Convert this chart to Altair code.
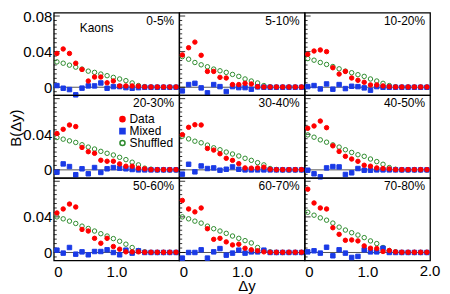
import altair as alt
import pandas as pd

# ---- data ----
dy = [0.05, 0.15, 0.25, 0.35, 0.45, 0.55, 0.65, 0.75, 0.85, 0.95,
      1.05, 1.15, 1.25, 1.35, 1.45, 1.55, 1.65, 1.75, 1.85, 1.95]

centralities = ["0-5%", "5-10%", "10-20%", "20-30%", "30-40%", "40-50%",
                "50-60%", "60-70%", "70-80%"]

data_vals = {
    "0-5%":   [0.0380, 0.0430, 0.0380, 0.0270, 0.0200, 0.0070, 0.0115, 0.0115, 0.0050, 0.0070,
               0.0015, 0.0015, 0.0015, 0.0012, 0.0004, 0.0003, 0.0003, 0.0003, 0.0003, 0.0003],
    "5-10%":  [0.0363, 0.0444, 0.0507, 0.0359, 0.0178, 0.0178, 0.0111, 0.0104, 0.0030, 0.0030,
               0.0044, 0.0037, 0.0007, 0.0003, 0.0003, 0.0003, 0.0003, 0.0003, 0.0003, 0.0003],
    "10-20%": [0.0370, 0.0407, 0.0419, 0.0400, 0.0219, 0.0148, 0.0178, 0.0104, 0.0078, 0.0056,
               0.0026, 0.0026, 0.0015, 0.0007, 0.0003, 0.0003, 0.0003, 0.0003, 0.0003, 0.0003],
    "20-30%": [0.0408, 0.0456, 0.0504, 0.0486, 0.0252, 0.0204, 0.0186, 0.0108, 0.0097, 0.0097,
               0.0067, 0.0041, 0.0041, 0.0019, 0.0012, 0.0003, 0.0003, 0.0003, 0.0003, 0.0003],
    "30-40%": [0.0396, 0.0478, 0.0507, 0.0504, 0.0241, 0.0222, 0.0181, 0.0130, 0.0107, 0.0070,
               0.0022, 0.0019, 0.0022, 0.0030, 0.0007, 0.0003, 0.0003, 0.0003, 0.0003, 0.0003],
    "40-50%": [0.0467, 0.0493, 0.0548, 0.0474, 0.0270, 0.0207, 0.0152, 0.0122, 0.0096, 0.0052,
               0.0041, 0.0022, 0.0015, 0.0011, 0.0003, 0.0003, 0.0003, 0.0003, 0.0003, 0.0003],
    "50-60%": [0.0444, 0.0489, 0.0544, 0.0511, 0.0259, 0.0241, 0.0159, 0.0104, 0.0159, 0.0067,
               0.0037, 0.0007, 0.0007, 0.0007, 0.0003, 0.0003, 0.0003, 0.0003, 0.0003, 0.0003],
    "60-70%": [0.0585, 0.0489, 0.0456, 0.0500, 0.0267, 0.0148, 0.0159, 0.0119, 0.0085, 0.0093,
               0.0048, 0.0030, 0.0019, 0.0007, 0.0003, 0.0003, 0.0003, 0.0003, 0.0003, 0.0003],
    "70-80%": [0.0711, 0.0556, 0.0500, 0.0489, 0.0278, 0.0204, 0.0137, 0.0141, 0.0130, 0.0074,
               0.0048, 0.0044, 0.0011, 0.0022, 0.0007, 0.0003, 0.0003, 0.0003, 0.0003, 0.0003],
}

mixed_vals = {
    "0-5%":   [0.0019, -0.0011, -0.0026, -0.0085, -0.0010, 0.0015, 0.0015, 0.0048, -0.0011, 0.0007,
               0.0007, -0.0004, -0.0011, -0.0004, 0.0, 0.0, 0.0, 0.0, 0.0, 0.0],
    "5-10%":  [-0.0041, 0.0030, 0.0044, -0.0007, -0.0063, 0.0030, 0.0007, -0.0048, 0.0007, -0.0004,
               -0.0004, -0.0022, 0.0004, 0.0, 0.0, 0.0, 0.0, 0.0, 0.0, 0.0],
    "10-20%": [0.0007, 0.0019, -0.0019, 0.0037, -0.0022, 0.0030, -0.0015, 0.0011, 0.0007, -0.0007,
               -0.0033, 0.0007, 0.0, 0.0, 0.0, 0.0, 0.0, 0.0, 0.0, 0.0],
    "20-30%": [-0.0026, 0.0067, 0.0037, -0.0055, 0.0012, -0.0044, 0.0026, -0.0029, 0.0012, 0.0026,
               0.0019, 0.0012, 0.0004, 0.0, 0.0, 0.0, 0.0, 0.0, 0.0, 0.0],
    "30-40%": [-0.0048, 0.0063, -0.0022, 0.0044, 0.0015, 0.0022, -0.0004, 0.0007, 0.0033, 0.0007,
               0.0, 0.0, 0.0, 0.0, 0.0, 0.0, 0.0, 0.0, 0.0, 0.0],
    "40-50%": [-0.0004, -0.0044, -0.0078, 0.0022, 0.0037, 0.0033, -0.0052, -0.0033, 0.0015, -0.0004,
               -0.0004, 0.0, 0.0, 0.0, 0.0, 0.0, 0.0, 0.0, 0.0, 0.0],
    "50-60%": [0.0026, -0.0007, 0.0056, -0.0019, 0.0007, -0.0026, 0.0011, 0.0011, 0.0030, 0.0,
               -0.0026, 0.0026, -0.0007, 0.0019, 0.0, 0.0, 0.0, 0.0, 0.0, 0.0],
    "60-70%": [-0.0063, 0.0, 0.0, 0.0030, -0.0063, 0.0007, 0.0044, -0.0030, -0.0007, 0.0026,
               -0.0007, 0.0007, 0.0007, 0.0026, 0.0, 0.0, 0.0, 0.0, 0.0, 0.0],
    "70-80%": [0.0007, 0.0019, -0.0007, 0.0059, -0.0037, 0.0030, -0.0007, -0.0056, -0.0044, 0.0030,
               0.0007, 0.0007, 0.0048, 0.0, 0.0, 0.0, 0.0, 0.0, 0.0, 0.0],
}

shuffled_vals = {
    "0-5%":   [0.0285, 0.0270, 0.0248, 0.0226, 0.0204, 0.0181, 0.0167, 0.0148, 0.0130, 0.0111,
               0.0093, 0.0074, 0.0048, 0.0019, 0.0007, 0.0002, 0.0, 0.0, 0.0, 0.0],
    "5-10%":  [0.0344, 0.0315, 0.0278, 0.0252, 0.0230, 0.0204, 0.0185, 0.0167, 0.0144, 0.0122,
               0.0093, 0.0070, 0.0048, 0.0019, 0.0004, 0.0, 0.0, 0.0, 0.0, 0.0],
    "10-20%": [0.0322, 0.0304, 0.0278, 0.0256, 0.0233, 0.0207, 0.0181, 0.0163, 0.0141, 0.0122,
               0.0093, 0.0070, 0.0044, 0.0019, 0.0004, 0.0, 0.0, 0.0, 0.0, 0.0],
    "20-30%": [0.0363, 0.0345, 0.0326, 0.0308, 0.0282, 0.0256, 0.0234, 0.0208, 0.0186, 0.0167,
               0.0141, 0.0115, 0.0086, 0.0056, 0.0019, 0.0008, 0.0, 0.0, 0.0, 0.0],
    "30-40%": [0.0378, 0.0348, 0.0322, 0.0304, 0.0278, 0.0248, 0.0226, 0.0200, 0.0178, 0.0156,
               0.0130, 0.0107, 0.0081, 0.0056, 0.0015, 0.0003, 0.0, 0.0, 0.0, 0.0],
    "40-50%": [0.0393, 0.0367, 0.0337, 0.0311, 0.0281, 0.0256, 0.0226, 0.0196, 0.0170, 0.0152,
               0.0122, 0.0093, 0.0063, 0.0026, 0.0007, 0.0, 0.0, 0.0, 0.0, 0.0],
    "50-60%": [0.0400, 0.0378, 0.0352, 0.0326, 0.0296, 0.0270, 0.0241, 0.0211, 0.0185, 0.0156,
               0.0126, 0.0093, 0.0056, 0.0022, 0.0007, 0.0, 0.0, 0.0, 0.0, 0.0],
    "60-70%": [0.0400, 0.0378, 0.0352, 0.0330, 0.0296, 0.0267, 0.0241, 0.0215, 0.0185, 0.0159,
               0.0133, 0.0107, 0.0056, 0.0022, 0.0007, 0.0, 0.0, 0.0, 0.0, 0.0],
    "70-80%": [0.0452, 0.0419, 0.0389, 0.0363, 0.0330, 0.0285, 0.0252, 0.0222, 0.0196, 0.0167,
               0.0130, 0.0100, 0.0056, 0.0022, 0.0007, 0.0, 0.0, 0.0, 0.0, 0.0],
}

series_names = ["Data", "Mixed", "Shuffled"]
series_stroke = ["#ff0000", "#1a3ae6", "#2e8b2e"]
series_fill = ["#ff0000", "#1a3ae6", "transparent"]
series_shape = ["circle", "square", "circle"]

y_minor_ticks = [-0.005, 0.005, 0.01, 0.015, 0.02, 0.025, 0.03, 0.035,
                 0.045, 0.05, 0.055, 0.06, 0.065, 0.07, 0.075]
y_major_ticks = [0.0, 0.04, 0.08]
y_labels_top = [0, 0.04, 0.08]
y_labels_lower = [0, 0.04]
x_labels = [0, 1.0]
particle = "Kaons"
x_title = "Δy"
y_title = "B(Δy)"
x_last_label = "2.0"

W, H = 126, 83
FONT = "Liberation Sans"

xscale = alt.Scale(domain=[0, 2.0], nice=False, zero=False)
yscale = alt.Scale(domain=[-0.009, 0.0838], nice=False, zero=False)

legend = alt.Legend(orient="none", legendX=63, legendY=101, title=None,
                    labelFont=FONT, labelFontSize=12, labelColor="black",
                    symbolSize=26, rowPadding=0, padding=0, labelOffset=1)


def panel(i, cent):
    col, row = i % 3, i // 3
    rows = []
    for s, table in [("Shuffled", shuffled_vals), ("Mixed", mixed_vals), ("Data", data_vals)]:
        for x, v in zip(dy, table[cent]):
            rows.append({"kind": "point", "series": s, "dy": x, "b": v})
    for t in y_minor_ticks:
        rows.append({"kind": "minor", "series": "", "dy": 0.0, "b": t})
    for t in y_major_ticks:
        rows.append({"kind": "major", "series": "", "dy": 0.0, "b": t})
    rows.append({"kind": "label", "series": "", "dy": 0.0, "b": 0.0})
    df = pd.DataFrame(rows)

    if row == 2:
        xaxis = alt.Axis(values=x_labels, title=None, ticks=False, domain=False, grid=False,
                         labelExpr="datum.value == 0 ? '0' : format(datum.value, '.1f')")
    else:
        xaxis = None
    if col == 0:
        yaxis = alt.Axis(values=y_labels_top if row == 0 else y_labels_lower, title=None,
                         ticks=False, domain=False, grid=False,
                         labelExpr="datum.value == 0 ? '0' : format(datum.value, '.2f')")
    else:
        yaxis = None

    X = alt.X("dy:Q", scale=xscale, axis=xaxis)
    Y = alt.Y("b:Q", scale=yscale, axis=yaxis)
    base = alt.Chart(df)
    lab = base.transform_filter(alt.datum.kind == "label")

    layers = [
        lab.mark_rule(color="#555555", strokeWidth=1).encode(y=Y),
        base.transform_filter(alt.datum.kind == "minor").mark_rule(
            color="black", strokeWidth=0.8).encode(y=Y, x=alt.value(0), x2=alt.value(3)),
        base.transform_filter(alt.datum.kind == "major").mark_rule(
            color="black", strokeWidth=0.8).encode(y=Y, x=alt.value(0), x2=alt.value(6)),
        base.transform_filter(alt.datum.kind == "point").mark_point(
            filled=False, strokeWidth=1, opacity=1, size=20).encode(
            x=X, y=Y,
            stroke=alt.Stroke("series:N", scale=alt.Scale(domain=series_names, range=series_stroke), legend=legend),
            fill=alt.Fill("series:N", scale=alt.Scale(domain=series_names, range=series_fill), legend=legend),
            shape=alt.Shape("series:N", scale=alt.Scale(domain=series_names, range=series_shape), legend=legend),
        ),
        lab.mark_text(align="right", baseline="middle", font=FONT, fontSize=12, color="black").encode(
            x=alt.value(W - 5), y=alt.value(8), text=alt.value(cent)),
    ]
    if i == 0:
        layers.append(lab.mark_text(align="left", baseline="middle", font=FONT, fontSize=12,
                                    color="black").encode(
            x=alt.value(26), y=alt.value(15.5), text=alt.value(particle)))
    if i == 3:
        layers.append(lab.mark_text(align="center", baseline="middle", font=FONT, fontSize=15,
                                    color="black", angle=270).encode(
            x=alt.value(-37.5), y=alt.value(33), text=alt.value(y_title)))
    if i == 7:
        layers.append(lab.mark_text(align="center", baseline="middle", font=FONT, fontSize=15,
                                    color="black").encode(
            x=alt.value(W / 2 + 5), y=alt.value(H + 25.5), text=alt.value(x_title)))
    if i == 8:
        layers.append(lab.mark_text(align="center", baseline="top", font=FONT, fontSize=15,
                                    color="black").encode(
            x=alt.datum(2.0), y=alt.value(H + 4), text=alt.value(x_last_label)))
    return alt.layer(*layers).properties(width=W, height=H)


panels = [panel(i, c) for i, c in enumerate(centralities)]

chart = alt.concat(*panels, columns=3, spacing=0, bounds="flush").properties(
    padding={"left": 0, "top": -1, "right": 0, "bottom": 0}
).configure_view(
    stroke="black", strokeWidth=1.3
).configure_axis(
    labelFont=FONT, labelFontSize=15, labelColor="black", labelPadding=2, tickSize=0,
).configure_axisX(labelPadding=4)

chart.save("out.html", embed_options={"renderer": "svg", "actions": False})
